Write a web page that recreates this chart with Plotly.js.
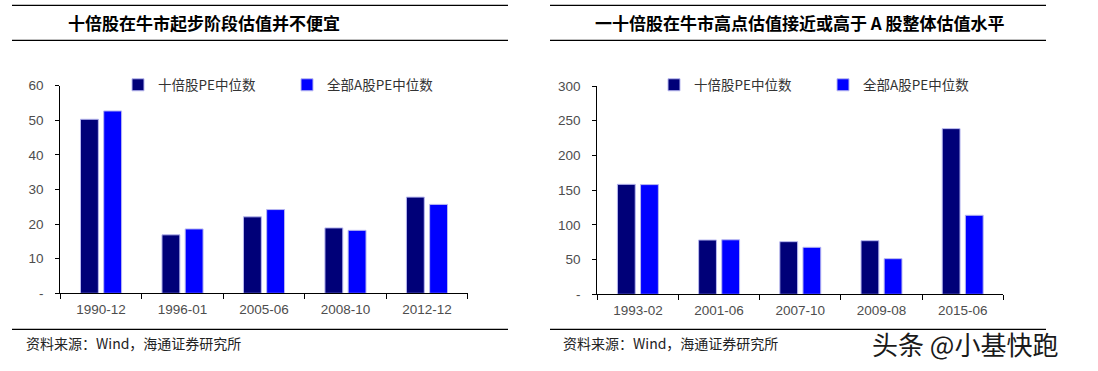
<!DOCTYPE html>
<html>
<head>
<meta charset="utf-8">
<script src="https://cdn.plot.ly/plotly-3.0.1.min.js"></script>
<style>html,body{margin:0;padding:0;background:#fff;}#chart{width:1098px;height:371px;}</style>
</head>
<body>
<div id="chart"></div>
<script>
// Left chart: 十倍股在牛市起步阶段估值并不便宜
const leftCategories = ["1990-12", "1996-01", "2005-06", "2008-10", "2012-12"];
const leftTenBagger = [50.3, 16.9, 22.1, 18.9, 27.8];
const leftAllA = [52.7, 18.6, 24.2, 18.2, 25.7];
const leftTickVals = [0, 10, 20, 30, 40, 50, 60];
const leftTickText = ["-", "10", "20", "30", "40", "50", "60"];

// Right chart: 十倍股在牛市高点估值接近或高于 A 股整体估值水平
const rightCategories = ["1993-02", "2001-06", "2007-10", "2009-08", "2015-06"];
const rightTenBagger = [158.4, 78.2, 75.8, 77.2, 238.6];
const rightAllA = [158.0, 78.5, 67.7, 51.3, 113.8];
const rightTickVals = [0, 50, 100, 150, 200, 250, 300];
const rightTickText = ["-", "50", "100", "150", "200", "250", "300"];

const seriesNames = ["十倍股PE中位数", "全部A股PE中位数"];
const leftTitle = "十倍股在牛市起步阶段估值并不便宜";
const rightTitle = "一十倍股在牛市高点估值接近或高于 <b>A</b> 股整体估值水平";
const sourceText = "资料来源：Wind，海通证券研究所";
const watermark = "头条 @小基快跑";

const W = 1098, H = 371;
const px = x => x / W;
const py = y => 1 - y / H;

const darkColor = "#000078";
const blueColor = "#0000ff";
const edgeColor = "#b8b8f0";
const cjk = "'Noto Sans CJK SC', sans-serif";
const latin = "'Liberation Sans', Arial, sans-serif";

const traces = [
  {type: "bar", x: leftCategories, y: leftTenBagger, name: seriesNames[0], xaxis: "x", yaxis: "y",
   marker: {color: darkColor, line: {color: edgeColor, width: 1}}, legend: "legend"},
  {type: "bar", x: leftCategories, y: leftAllA, name: seriesNames[1], xaxis: "x", yaxis: "y",
   marker: {color: blueColor, line: {color: edgeColor, width: 1}}, legend: "legend"},
  {type: "bar", x: rightCategories, y: rightTenBagger, name: seriesNames[0], xaxis: "x2", yaxis: "y2",
   marker: {color: darkColor, line: {color: edgeColor, width: 1}}, legend: "legend2"},
  {type: "bar", x: rightCategories, y: rightAllA, name: seriesNames[1], xaxis: "x2", yaxis: "y2",
   marker: {color: blueColor, line: {color: edgeColor, width: 1}}, legend: "legend2"}
];

const xCommon = {
  type: "category", showline: true, linecolor: "#000", linewidth: 1,
  ticks: "outside", tickson: "boundaries", ticklen: 5, tickcolor: "#000", tickwidth: 1,
  showgrid: false, zeroline: false, automargin: false, fixedrange: true,
  tickfont: {family: latin, size: 13.5, color: "#4d4d4d"}, ticklabelstandoff: 3
};
const yCommon = {
  showline: true, linecolor: "#000", linewidth: 1,
  ticks: "outside", ticklen: 4, tickcolor: "#000", tickwidth: 1,
  showgrid: false, zeroline: false, automargin: false, fixedrange: true,
  tickmode: "array", tickfont: {family: latin, size: 13.5, color: "#4d4d4d"}, ticklabelstandoff: 9
};

const legendCommon = {
  orientation: "h", xanchor: "left", yanchor: "middle", bgcolor: "rgba(0,0,0,0)",
  font: {family: cjk, size: 13.5, color: "#333"}, entrywidth: 124, entrywidthmode: "pixels",
  itemwidth: 30, tracegroupgap: 0
};

const lineShape = (x0, x1, y) => ({type: "line", xref: "paper", yref: "paper",
  x0: px(x0), x1: px(x1), y0: py(y), y1: py(y), line: {color: "#000", width: 1.3}});

const layout = {
  width: W, height: H, margin: {l: 0, r: 0, t: 0, b: 0},
  paper_bgcolor: "#fff", plot_bgcolor: "#fff",
  barmode: "group", bargap: 0.43, bargroupgap: 0.23,
  xaxis: Object.assign({}, xCommon, {domain: [px(60.3), px(467.7)], anchor: "y"}),
  yaxis: Object.assign({}, yCommon, {domain: [py(293.3), py(85.7)], range: [0, 60], anchor: "x",
    tickvals: leftTickVals, ticktext: leftTickText}),
  xaxis2: Object.assign({}, xCommon, {domain: [px(597.3), px(1003.3)], anchor: "y2"}),
  yaxis2: Object.assign({}, yCommon, {domain: [py(294.3), py(86)], range: [0, 300], anchor: "x2",
    tickvals: rightTickVals, ticktext: rightTickText}),
  legend: Object.assign({}, legendCommon, {x: px(118), y: py(85)}),
  legend2: Object.assign({}, legendCommon, {x: px(654), y: py(85)}),
  showlegend: true,
  shapes: [
    lineShape(12, 508, 5.3), lineShape(12, 508, 40.3), lineShape(12, 508, 329.3),
    lineShape(550, 1046, 5.3), lineShape(550, 1046, 40.3), lineShape(550, 1046, 329.3)
  ],
  annotations: [
    {text: leftTitle, xref: "paper", yref: "paper", x: px(204), y: py(23), xanchor: "center", yanchor: "middle",
     showarrow: false, font: {family: cjk, size: 17, color: "#000", weight: 600}},
    {text: rightTitle, xref: "paper", yref: "paper", x: px(800), y: py(23), xanchor: "center", yanchor: "middle",
     showarrow: false, font: {family: cjk, size: 17, color: "#000", weight: 600}},
    {text: sourceText, xref: "paper", yref: "paper", x: px(24), y: py(343), xanchor: "left", yanchor: "middle",
     showarrow: false, font: {family: cjk, size: 14, color: "#222"}},
    {text: sourceText, xref: "paper", yref: "paper", x: px(561), y: py(343), xanchor: "left", yanchor: "middle",
     showarrow: false, font: {family: cjk, size: 14, color: "#222"}},
    {text: watermark, xref: "paper", yref: "paper", x: px(965), y: py(343), xanchor: "center", yanchor: "middle",
     showarrow: false, font: {family: cjk, size: 26, color: "#1a1a1a", shadow: "1px 1px 1px #fff"}}
  ]
};

Plotly.newPlot("chart", traces, layout, {staticPlot: true, displayModeBar: false});
</script>
</body>
</html>
